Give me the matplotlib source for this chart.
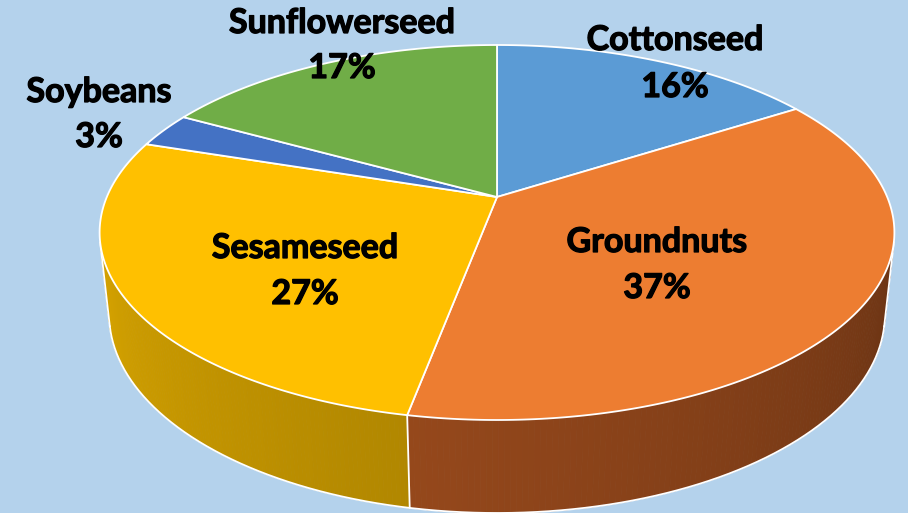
import numpy as np
import matplotlib.pyplot as plt
from matplotlib.patches import Polygon
from matplotlib.collections import PolyCollection
from matplotlib.colors import to_rgb
import matplotlib.patheffects as pe

labels = ['Cottonseed', 'Groundnuts', 'Sesameseed', 'Soybeans', 'Sunflowerseed']
shares = [16, 37, 27, 3, 17]
pct_text = ['16%', '37%', '27%', '3%', '17%']

top_colors = ['#5B9BD5', '#ED7D31', '#FFC000', '#4472C4', '#70AD47']
side_colors = ['#4A7DAD', '#B45721', '#D6A300', '#375C9E', '#5A8C39']
bg = '#B4D2EC'

# label baselines in pixels (name, percent)
label_pos = [(675, 50, 97), (657, 252, 298), (305, 258, 304), (99, 102, 147), (342, 33, 78)]

# perspective camera for the 3d pie
cx, cy = 497, 197          # pie vertex on screen
far_px, near_px = 152, 223  # top face extent above / below vertex
depth_px = 93               # wall height at the front
phi = np.radians(27.6)
c, s = np.cos(phi), np.sin(phi)
ratio = near_px / far_px
d = c * (1 + ratio) / (ratio - 1)
F = (far_px + near_px) / (s / (d + c) + s / (d - c))
k = (near_px + depth_px) / F
h = (k * (d - c) - s) / (c - k * s)


def proj(t, z=0.0):
    den = d + np.sin(t) * c - z * s
    x = np.cos(t) / den
    y = (np.sin(t) * s + z * c) / den
    return cx + F * x, cy - F * y


fig = plt.figure(figsize=(9.08, 5.13), dpi=100)
fig.patch.set_facecolor(bg)
ax = fig.add_axes([0, 0, 1, 1])
ax.set_xlim(0, 908)
ax.set_ylim(513, 0)
ax.axis('off')

cum = np.concatenate([[0], np.cumsum(shares)]) / np.sum(shares)
starts = np.pi / 2 - 2 * np.pi * cum[:-1]
ends = np.pi / 2 - 2 * np.pi * cum[1:]

# visible part of outer wall
lim = np.arcsin(1 / (d * c))
vis_lo, vis_hi = -np.pi + lim, -lim


def shade(t):
    return 1.0 - 0.4 * (t - vis_lo) / (vis_hi - vis_lo)


for i in range(len(shares)):
    lo = max(ends[i], vis_lo)
    hi = min(starts[i], vis_hi)
    if lo >= hi:
        continue
    tt = np.linspace(lo, hi, 120)
    xt, yt = proj(tt)
    xb, yb = proj(tt, -h)
    quads, cols = [], []
    base = np.array(to_rgb(side_colors[i]))
    for j in range(len(tt) - 1):
        quads.append([(xt[j], yt[j]), (xt[j + 1], yt[j + 1]),
                      (xb[j + 1], yb[j + 1]), (xb[j], yb[j])])
        cols.append(np.clip(base * shade((tt[j] + tt[j + 1]) / 2), 0, 1))
    pc = PolyCollection(quads, facecolors=cols, edgecolors=cols, linewidths=0.6, zorder=1)
    ax.add_collection(pc)

# white edges on the wall
tt = np.linspace(vis_lo, vis_hi, 300)
xb, yb = proj(tt, -h)
ax.plot(xb, yb, color='white', lw=1.3, zorder=2)
for t in list(ends[(ends > vis_lo) & (ends < vis_hi)]) + [vis_lo, vis_hi]:
    x0, y0 = proj(t)
    x1, y1 = proj(t, -h)
    ax.plot([x0, x1], [y0, y1], color='white', lw=1.3, zorder=2)

# top faces
for i in range(len(shares)):
    tt = np.linspace(starts[i], ends[i], 200)
    xs, ys = proj(tt)
    pts = np.column_stack([np.r_[cx, xs], np.r_[cy, ys]])
    ax.add_patch(Polygon(pts, closed=True, facecolor=top_colors[i],
                         edgecolor='white', lw=1.3, joinstyle='round', zorder=3))

bold = [pe.withStroke(linewidth=0.9, foreground='black')]
for i in range(len(shares)):
    x, y1, y2 = label_pos[i]
    ax.text(x, y1, labels[i], ha='center', va='baseline', fontsize=24.5,
            fontweight='bold', family='Lato', color='black', zorder=5, path_effects=bold)
    ax.text(x, y2, pct_text[i], ha='center', va='baseline', fontsize=24.5,
            fontweight='bold', family='Lato', color='black', zorder=5, path_effects=bold)

fig.savefig('out.png', dpi=100, facecolor=bg)
